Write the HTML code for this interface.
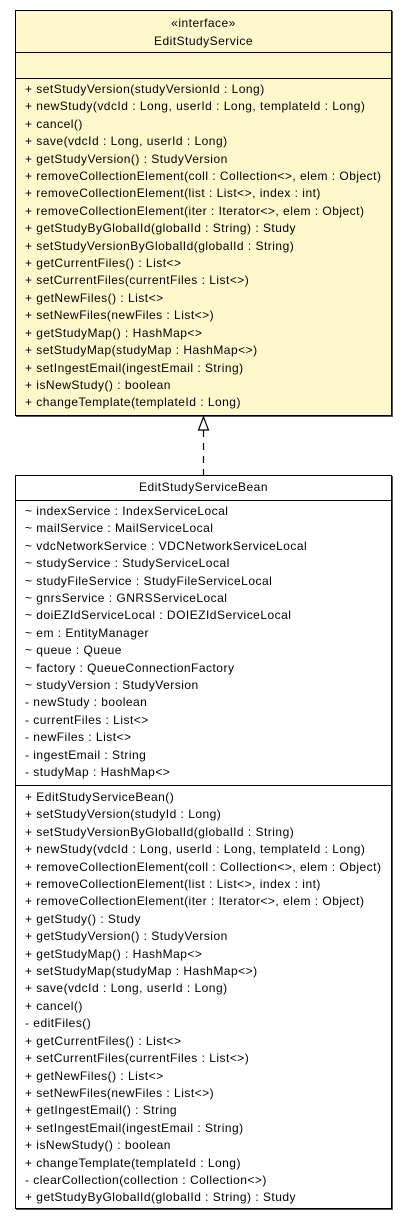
<!DOCTYPE html>
<html><head><meta charset="utf-8"><style>
body{margin:0;width:408px;height:1220px;background:#fff;position:relative;font-family:"Liberation Sans",Arial,sans-serif;font-size:12px;letter-spacing:0.48px;color:#000;overflow:hidden}
.box{position:absolute;border:1px solid #000;box-shadow:1px 1px 0 #555;box-sizing:border-box}
.hr{position:absolute;left:0;right:0;height:0;border-top:1px solid #000}
.t{position:absolute;left:9px;white-space:pre;line-height:17.4px}
.c{position:absolute;left:0;right:0;text-align:center;line-height:17.4px}
</style></head><body>
<div class="box" style="left:15px;top:10px;width:377px;height:406px;background:#fff8cc">
 <div class="c" style="top:4px">«interface»</div>
 <div class="c" style="top:22px">EditStudyService</div>
 <div class="hr" style="top:41px"></div>
 <div class="hr" style="top:67px"></div>
 <div class="t" style="top:70px">+ setStudyVersion(studyVersionId : Long)
+ newStudy(vdcId : Long, userId : Long, templateId : Long)
+ cancel()
+ save(vdcId : Long, userId : Long)
+ getStudyVersion() : StudyVersion
+ removeCollectionElement(coll : Collection&lt;&gt;, elem : Object)
+ removeCollectionElement(list : List&lt;&gt;, index : int)
+ removeCollectionElement(iter : Iterator&lt;&gt;, elem : Object)
+ getStudyByGlobalId(globalId : String) : Study
+ setStudyVersionByGlobalId(globalId : String)
+ getCurrentFiles() : List&lt;&gt;
+ setCurrentFiles(currentFiles : List&lt;&gt;)
+ getNewFiles() : List&lt;&gt;
+ setNewFiles(newFiles : List&lt;&gt;)
+ getStudyMap() : HashMap&lt;&gt;
+ setStudyMap(studyMap : HashMap&lt;&gt;)
+ setIngestEmail(ingestEmail : String)
+ isNewStudy() : boolean
+ changeTemplate(templateId : Long)</div>
</div>
<svg style="position:absolute;left:0;top:0" width="408" height="1220">
 <polygon points="203.5,417 198.5,430 208.5,430" fill="#fff" stroke="#000" stroke-width="1.2"/>
 <line x1="203.5" y1="430" x2="203.5" y2="475" stroke="#000" stroke-width="1.2" stroke-dasharray="7,6"/>
</svg>
<div class="box" style="left:15px;top:475px;width:377px;height:734px;background:#fff">
 <div class="c" style="top:3px">EditStudyServiceBean</div>
 <div class="hr" style="top:24px"></div>
 <div class="t" style="top:27px">~ indexService : IndexServiceLocal
~ mailService : MailServiceLocal
~ vdcNetworkService : VDCNetworkServiceLocal
~ studyService : StudyServiceLocal
~ studyFileService : StudyFileServiceLocal
~ gnrsService : GNRSServiceLocal
~ doiEZIdServiceLocal : DOIEZIdServiceLocal
~ em : EntityManager
~ queue : Queue
~ factory : QueueConnectionFactory
~ studyVersion : StudyVersion
- newStudy : boolean
- currentFiles : List&lt;&gt;
- newFiles : List&lt;&gt;
- ingestEmail : String
- studyMap : HashMap&lt;&gt;</div>
 <div class="hr" style="top:309px"></div>
 <div class="t" style="top:313px">+ EditStudyServiceBean()
+ setStudyVersion(studyId : Long)
+ setStudyVersionByGlobalId(globalId : String)
+ newStudy(vdcId : Long, userId : Long, templateId : Long)
+ removeCollectionElement(coll : Collection&lt;&gt;, elem : Object)
+ removeCollectionElement(list : List&lt;&gt;, index : int)
+ removeCollectionElement(iter : Iterator&lt;&gt;, elem : Object)
+ getStudy() : Study
+ getStudyVersion() : StudyVersion
+ getStudyMap() : HashMap&lt;&gt;
+ setStudyMap(studyMap : HashMap&lt;&gt;)
+ save(vdcId : Long, userId : Long)
+ cancel()
- editFiles()
+ getCurrentFiles() : List&lt;&gt;
+ setCurrentFiles(currentFiles : List&lt;&gt;)
+ getNewFiles() : List&lt;&gt;
+ setNewFiles(newFiles : List&lt;&gt;)
+ getIngestEmail() : String
+ setIngestEmail(ingestEmail : String)
+ isNewStudy() : boolean
+ changeTemplate(templateId : Long)
- clearCollection(collection : Collection&lt;&gt;)
+ getStudyByGlobalId(globalId : String) : Study</div>
</div>
</body></html>
